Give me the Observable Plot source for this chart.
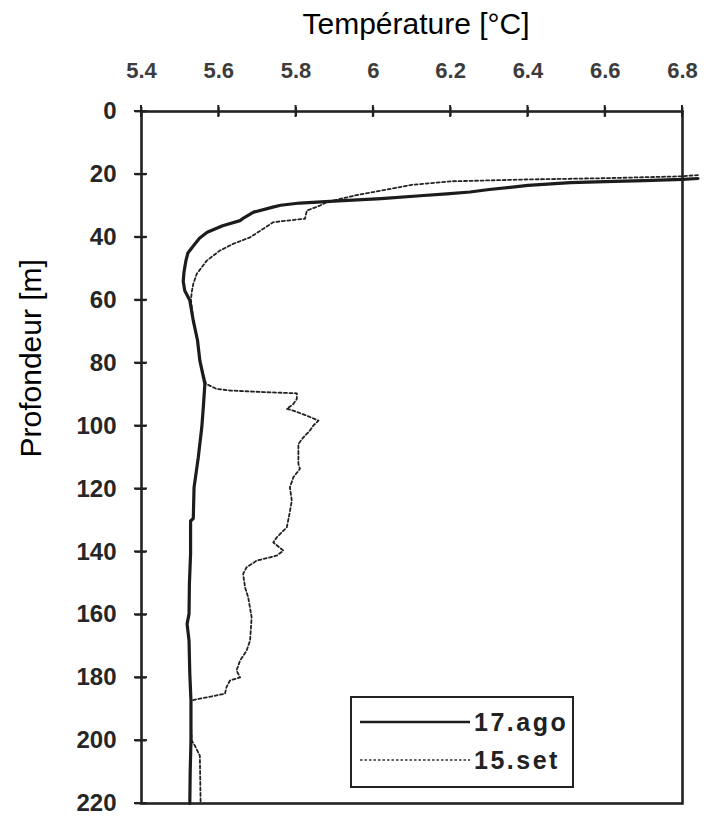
<!DOCTYPE html>
<html>
<head>
<meta charset="utf-8">
<script src="https://cdn.jsdelivr.net/npm/d3@7"></script>
<script src="https://cdn.jsdelivr.net/npm/@observablehq/plot@0.6"></script>
<style>
  html, body { margin: 0; padding: 0; background: #fff; }
  #wrap { position: relative; width: 707px; height: 819px; }
  #ticks { position: absolute; left: 0; top: 0; pointer-events: none; }
  #legend { position: absolute; left: 350px; top: 696px; }
</style>
</head>
<body>
<div id="wrap"><div id="chart"></div><div id="ticks"></div><div id="legend"></div></div>
<script>
// Temperature profiles (°C) against depth (m), two survey dates
const seriesNames = ["17.ago", "15.set"];

const agoDepth = [21.3, 21.6, 22.0, 22.3, 22.6, 23.5, 24.8, 25.6, 26.2, 26.7, 27.7, 28.4, 29.1, 29.8, 30.4, 32.0, 33.8, 34.7, 36.3, 38.4, 40.3, 42.6, 45.0, 47.4, 51.0, 54.0, 57.0, 60.0, 66.5, 72.8, 79.2, 86.6, 94.0, 100.4, 109.9, 119.5, 129.4, 130.2, 140.6, 150.0, 159.7, 162.9, 168.2, 178.8, 187.3, 200.0, 210.0, 220.0];
const agoTemp  = [6.84, 6.80, 6.70, 6.60, 6.51, 6.40, 6.30, 6.25, 6.19, 6.13, 6.02, 5.91, 5.81, 5.76, 5.74, 5.69, 5.665, 5.655, 5.61, 5.57, 5.55, 5.535, 5.52, 5.515, 5.51, 5.508, 5.512, 5.525, 5.534, 5.545, 5.551, 5.564, 5.560, 5.556, 5.547, 5.536, 5.534, 5.527, 5.527, 5.524, 5.523, 5.518, 5.523, 5.525, 5.528, 5.528, 5.526, 5.525];

const setDepth = [20.2, 20.6, 21.2, 21.6, 22.2, 23.3, 25.6, 26.5, 27.8, 28.8, 29.9, 31.5, 34.1, 34.7, 35.2, 37.3, 40.0, 42.1, 44.2, 47.4, 51.6, 54.8, 57.4, 60.0, 66.5, 72.8, 79.2, 86.6, 88.2, 88.7, 89.2, 89.6, 91.4, 93.0, 94.5, 95.1, 96.7, 98.3, 99.8, 101.4, 103.6, 105.7, 112.0, 113.6, 116.3, 119.5, 123.7, 127.9, 132.2, 135.4, 137.0, 139.6, 141.2, 142.8, 144.9, 147.0, 151.3, 154.4, 160.8, 168.2, 171.4, 174.6, 177.7, 179.9, 180.9, 183.0, 185.1, 187.1, 187.6, 195.0, 200.0, 201.6, 204.8, 220.0];
const setTemp  = [6.84, 6.80, 6.60, 6.40, 6.20, 6.10, 6.00, 5.96, 5.914, 5.88, 5.862, 5.828, 5.823, 5.776, 5.741, 5.715, 5.681, 5.637, 5.603, 5.569, 5.543, 5.534, 5.530, 5.528, 5.534, 5.545, 5.551, 5.567, 5.594, 5.629, 5.715, 5.802, 5.802, 5.793, 5.776, 5.793, 5.828, 5.858, 5.845, 5.836, 5.819, 5.806, 5.806, 5.810, 5.793, 5.784, 5.789, 5.783, 5.776, 5.750, 5.741, 5.767, 5.750, 5.698, 5.672, 5.663, 5.668, 5.676, 5.685, 5.681, 5.672, 5.655, 5.646, 5.655, 5.629, 5.620, 5.616, 5.534, 5.528, 5.528, 5.530, 5.538, 5.551, 5.553];

const tempTicks  = [5.4, 5.6, 5.8, 6, 6.2, 6.4, 6.6, 6.8];
const depthTicks = [0, 20, 40, 60, 80, 100, 120, 140, 160, 180, 200, 220];

const xTitle = "Température [°C]";
const yTitle = "Profondeur [m]";

const ago = agoDepth.map((d, i) => ({depth: d, temp: agoTemp[i]}));
const sep = setDepth.map((d, i) => ({depth: d, temp: setTemp[i]}));

const font = "'Liberation Sans', Arial, Helvetica, sans-serif";
const ink = "#1c1c1c";

// plot frame geometry
const W = 707, H = 819;
const mTop = 111, mRight = 25, mBottom = 16, mLeft = 141;
const frameW = W - mLeft - mRight, frameH = H - mTop - mBottom;

const chart = Plot.plot({
  width: W,
  height: H,
  marginTop: mTop,
  marginRight: mRight,
  marginBottom: mBottom,
  marginLeft: mLeft,
  style: {fontFamily: font, background: "#fff"},
  x: {domain: [5.4, 6.8]},
  y: {domain: [0, 220], reverse: true},
  marks: [
    Plot.frame({stroke: "#222", strokeWidth: 2.6}),
    Plot.tickX(tempTicks, {x: d => d, stroke: "#222", strokeWidth: 1.8, insetBottom: frameH - 5}),
    Plot.tickY(depthTicks, {y: d => d, stroke: "#222", strokeWidth: 1.8, insetRight: frameW - 5}),
    Plot.axisX({
      anchor: "top", ticks: tempTicks, tickFormat: d => String(d),
      tickSize: 5, tickPadding: 29, stroke: "#222", strokeWidth: 1.8,
      fontSize: 22, fontWeight: "bold", fill: "#3c3c3c", label: null
    }),
    Plot.axisY({
      anchor: "left", ticks: depthTicks, tickFormat: d => String(d),
      tickSize: 6, tickPadding: 19, stroke: "#222", strokeWidth: 1.8,
      fontSize: 24, fontWeight: "bold", fill: "#262626", label: null
    }),
    Plot.text([xTitle], {frameAnchor: "top", dy: -78, dx: 4, fontSize: 30, lineAnchor: "bottom", fill: "#000"}),
    Plot.text([yTitle], {frameAnchor: "left", dx: -110, rotate: -90, fontSize: 30, lineAnchor: "middle", fill: "#000"}),
    Plot.line(sep, {x: "temp", y: "depth", stroke: "#222", strokeWidth: 1.8, strokeDasharray: "3,2.5"}),
    Plot.line(ago, {x: "temp", y: "depth", stroke: ink, strokeWidth: 3.2, strokeLinejoin: "round"})
  ]
});
document.getElementById("chart").append(chart);

// Cross ticks straddling the top and left frame edges, on an overlay, placed with the plot's scales
const xScale = chart.scale("x"), yScale = chart.scale("y");
const tickSvg = d3.select("#ticks").append("svg")
  .attr("width", W).attr("height", H).style("display", "block");
const tg = tickSvg.append("g").attr("stroke", "#222").attr("stroke-width", 2);
tempTicks.forEach(t => {
  const px = xScale.apply(t);
  tg.append("line").attr("x1", px).attr("x2", px).attr("y1", mTop - 6).attr("y2", mTop + 6);
});
depthTicks.forEach(t => {
  const py = yScale.apply(t);
  tg.append("line").attr("x1", mLeft - 7).attr("x2", mLeft + 6).attr("y1", py).attr("y2", py);
});

// Legend box, lower right of the plot area
const legendSvg = d3.select("#legend").append("svg")
  .attr("width", 226).attr("height", 94)
  .style("display", "block")
  .attr("font-family", font);
legendSvg.append("rect")
  .attr("x", 1).attr("y", 1).attr("width", 222).attr("height", 90)
  .attr("fill", "#fff").attr("stroke", "#222").attr("stroke-width", 2);
const entryStyles = [
  {stroke: ink, width: 2.6, dash: null, y: 26},
  {stroke: "#333", width: 1.6, dash: "2.5,2", y: 64}
];
seriesNames.forEach((name, i) => {
  const s = entryStyles[i];
  legendSvg.append("line")
    .attr("x1", 10).attr("x2", 120).attr("y1", s.y).attr("y2", s.y)
    .attr("stroke", s.stroke).attr("stroke-width", s.width)
    .attr("stroke-dasharray", s.dash);
  legendSvg.append("text")
    .attr("x", 124).attr("y", s.y).attr("dy", "0.35em")
    .attr("text-anchor", "start")
    .attr("font-size", 25).attr("font-weight", "bold")
    .attr("letter-spacing", "2.5px").attr("fill", "#222")
    .text(name);
});
</script>
</body>
</html>
